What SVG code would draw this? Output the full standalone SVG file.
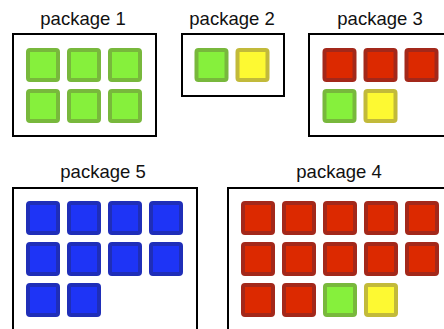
<svg xmlns="http://www.w3.org/2000/svg" width="444" height="329" viewBox="0 0 444 329">
<style>
.box{fill:#fff;stroke:#000;stroke-width:2}
.lbl{font-family:"Liberation Sans",Arial,sans-serif;font-size:18.5px;fill:#111;text-anchor:middle}
.sq{stroke-width:4}
.g{fill:#86f03c;stroke:#78b83c}
.y{fill:#fdf932;stroke:#c2ba3a}
.r{fill:#dc2900;stroke:#a3281a}
.b{fill:#1e34f6;stroke:#1f2eb8}
</style>
<defs>
<rect id="s" x="2" y="2" width="30" height="30" rx="2" class="sq"/>
</defs>
<rect width="444" height="329" fill="#fff"/>
<g id="package1">
<rect class="box" x="13" y="34" width="143" height="102"/>
<text class="lbl" x="83" y="25">package 1</text>
<use href="#s" class="g" x="26" y="48"/><use href="#s" class="g" x="67" y="48"/><use href="#s" class="g" x="108" y="48"/>
<use href="#s" class="g" x="26" y="89"/><use href="#s" class="g" x="67" y="89"/><use href="#s" class="g" x="108" y="89"/>
</g>
<g id="package2">
<rect class="box" x="182" y="34" width="102" height="62"/>
<text class="lbl" x="232" y="25">package 2</text>
<use href="#s" class="g" x="194.5" y="48"/><use href="#s" class="y" x="235.5" y="48"/>
</g>
<g id="package3">
<rect class="box" x="309" y="34" width="150" height="102"/>
<text class="lbl" x="380" y="25">package 3</text>
<use href="#s" class="r" x="322.5" y="48"/><use href="#s" class="r" x="363.5" y="48"/><use href="#s" class="r" x="404.5" y="48"/>
<use href="#s" class="g" x="322.5" y="89"/><use href="#s" class="y" x="363.5" y="89"/>
</g>
<g id="package5">
<rect class="box" x="13" y="188" width="184" height="150"/>
<text class="lbl" x="103" y="178">package 5</text>
<use href="#s" class="b" x="26" y="201"/><use href="#s" class="b" x="67" y="201"/><use href="#s" class="b" x="108" y="201"/><use href="#s" class="b" x="149" y="201"/>
<use href="#s" class="b" x="26" y="242"/><use href="#s" class="b" x="67" y="242"/><use href="#s" class="b" x="108" y="242"/><use href="#s" class="b" x="149" y="242"/>
<use href="#s" class="b" x="26" y="283"/><use href="#s" class="b" x="67" y="283"/>
</g>
<g id="package4">
<rect class="box" x="228" y="188" width="230" height="150"/>
<text class="lbl" x="339" y="178">package 4</text>
<use href="#s" class="r" x="241" y="201"/><use href="#s" class="r" x="282" y="201"/><use href="#s" class="r" x="323" y="201"/><use href="#s" class="r" x="364" y="201"/><use href="#s" class="r" x="405" y="201"/>
<use href="#s" class="r" x="241" y="242"/><use href="#s" class="r" x="282" y="242"/><use href="#s" class="r" x="323" y="242"/><use href="#s" class="r" x="364" y="242"/><use href="#s" class="r" x="405" y="242"/>
<use href="#s" class="r" x="241" y="283"/><use href="#s" class="r" x="282" y="283"/><use href="#s" class="g" x="323" y="283"/><use href="#s" class="y" x="364" y="283"/>
</g>
<g id="connectors"/>
</svg>
